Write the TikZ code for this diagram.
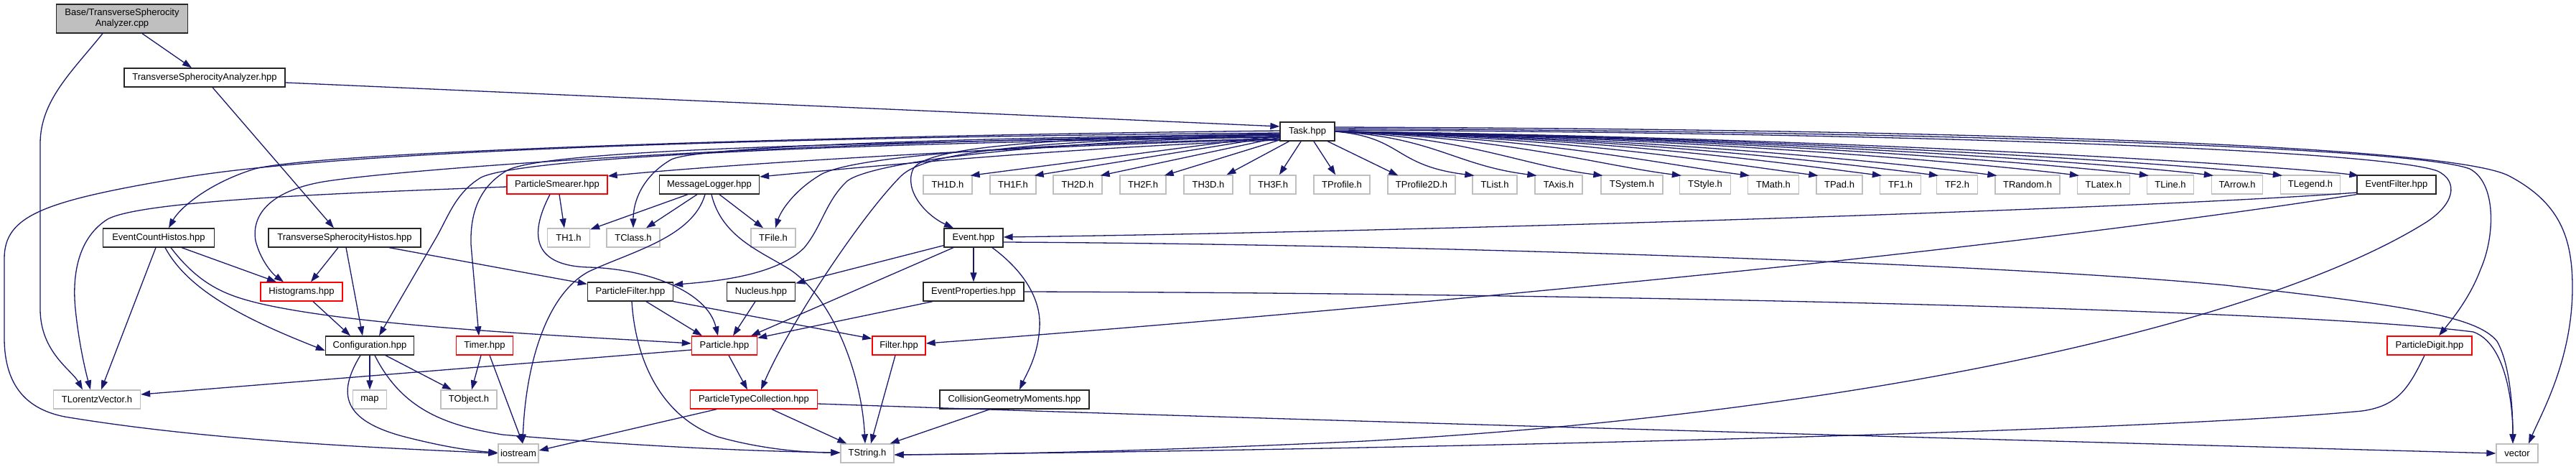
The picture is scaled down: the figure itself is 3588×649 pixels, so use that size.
\documentclass[tikz,border=0pt]{standalone}
\usepackage{fontspec}
\setmainfont{Liberation Sans}
\usetikzlibrary{arrows.meta,calc}
\definecolor{edgec}{HTML}{191970}
\definecolor{greyb}{HTML}{BFBFBF}
\begin{document}
\begin{tikzpicture}[x=1pt,y=-1pt,
  box/.style={rectangle, inner sep=0pt, minimum height=26pt, fill=white, line width=1.3pt, font=\fontsize{13}{15}\selectfont, text=black},
  docb/.style={box, draw=black!85},
  sysb/.style={box, draw=greyb},
  redb/.style={box, draw=red},
  basebox/.style={box, draw=black!85, fill=greyb},
  dep/.style={draw=edgec, line width=1.3pt, -{Triangle[length=13pt,width=9pt]}},
]
\fill[white] (0,0) rectangle (3588,649);
\useasboundingbox (0,0) rectangle (3588,649);

% nodes
\node[basebox, minimum width=183pt, minimum height=40pt, align=center] (base) at (170,26) {Base/TransverseSpherocity\\Analyzer.cpp};
\node[docb, minimum width=224pt] (tsah) at (285,108) {TransverseSpherocityAnalyzer.hpp};
\node[docb, minimum width=76pt] (task) at (1821,183) {Task.hpp};

\node[redb, minimum width=140pt] (psmear) at (776,257) {ParticleSmearer.hpp};
\node[docb, minimum width=139pt] (mlog) at (988,257) {MessageLogger.hpp};
\node[sysb, minimum width=68pt] (th1d) at (1320,257) {TH1D.h};
\node[sysb, minimum width=64pt] (th1f) at (1411,257) {TH1F.h};
\node[sysb, minimum width=68pt] (th2d) at (1501,257) {TH2D.h};
\node[sysb, minimum width=64pt] (th2f) at (1592,257) {TH2F.h};
\node[sysb, minimum width=68pt] (th3d) at (1683,257) {TH3D.h};
\node[sysb, minimum width=64pt] (th3f) at (1773,257) {TH3F.h};
\node[sysb, minimum width=78pt] (tprofile) at (1869,257) {TProfile.h};
\node[sysb, minimum width=94pt] (tprofiled) at (1980,257) {TProfile2D.h};
\node[sysb, minimum width=62pt] (tlist) at (2082,257) {TList.h};
\node[sysb, minimum width=66pt] (taxis) at (2171,257) {TAxis.h};
\node[sysb, minimum width=86pt] (tsystem) at (2273,257) {TSystem.h};
\node[sysb, minimum width=71pt] (tstyle) at (2375,257) {TStyle.h};
\node[sysb, minimum width=71pt] (tmath) at (2470,257) {TMath.h};
\node[sysb, minimum width=64pt] (tpad) at (2562,257) {TPad.h};
\node[sysb, minimum width=57pt] (tfone) at (2647,257) {TF1.h};
\node[sysb, minimum width=57pt] (tftwo) at (2726,257) {TF2.h};
\node[sysb, minimum width=90pt] (trandom) at (2824,257) {TRandom.h};
\node[sysb, minimum width=73pt] (tlatex) at (2930,257) {TLatex.h};
\node[sysb, minimum width=65pt] (tline) at (3023,257) {TLine.h};
\node[sysb, minimum width=71pt] (tarrow) at (3116,257) {TArrow.h};
\node[sysb, minimum width=83pt] (tlegend) at (3218,257) {TLegend.h};
\node[docb, minimum width=110pt] (evfilter) at (3338,257) {EventFilter.hpp};

\node[docb, minimum width=155pt] (ech) at (221,331) {EventCountHistos.hpp};
\node[docb, minimum width=212pt] (tsh) at (480,331) {TransverseSpherocityHistos.hpp};
\node[sysb, minimum width=59pt] (th1) at (792,331) {TH1.h};
\node[sysb, minimum width=74pt] (tclass) at (882,331) {TClass.h};
\node[sysb, minimum width=62pt] (tfile) at (1077,331) {TFile.h};
\node[docb, minimum width=82pt] (event) at (1356,331) {Event.hpp};

\node[redb, minimum width=114pt] (hist) at (420,406) {Histograms.hpp};
\node[docb, minimum width=119pt] (pfilter) at (878,406) {ParticleFilter.hpp};
\node[docb, minimum width=95pt] (nucleus) at (1060,406) {Nucleus.hpp};
\node[docb, minimum width=140pt] (evprop) at (1356,406) {EventProperties.hpp};

\node[docb, minimum width=123pt] (conf) at (515,481) {Configuration.hpp};
\node[redb, minimum width=79pt] (timer) at (675,481) {Timer.hpp};
\node[redb, minimum width=91pt] (particle) at (1009,481) {Particle.hpp};
\node[redb, minimum width=74pt] (filter) at (1252,481) {Filter.hpp};
\node[redb, minimum width=118pt] (pdigit) at (3384,481) {ParticleDigit.hpp};

\node[sysb, minimum width=121pt] (tlv) at (135,556) {TLorentzVector.h};
\node[sysb, minimum width=47pt] (map) at (515,556) {map};
\node[sysb, minimum width=78pt] (tobject) at (653,556) {TObject.h};
\node[redb, minimum width=177pt] (ptc) at (1050,556) {ParticleTypeCollection.hpp};
\node[docb, minimum width=208pt] (cgm) at (1413,556) {CollisionGeometryMoments.hpp};

\node[sysb, minimum width=56pt] (iostream) at (722,631) {iostream};
\node[sysb, minimum width=74pt] (tstring) at (1208,631) {TString.h};
\node[sysb, minimum width=58pt] (vector) at (3506,631) {vector};

% edges from base and tsah
\draw[dep] ([xshift=28]base.south) -- ([xshift=-18]tsah.north);
\draw[dep] ([xshift=-27]base.south) .. controls (100,100) and (56,140) .. (56,200) -- (56,430) .. controls (56,490) and (100,515) .. ([xshift=-20]tlv.north);
\draw[dep] ([yshift=-7]tsah.east) -- ([yshift=7]task.west);
\draw[dep] ([xshift=11]tsah.south) -- ([xshift=-15]tsh.north);

% task, left fan
\draw[dep] ([yshift=-2]task.west) .. controls (1200,190) and (500,205) .. (250,248) .. controls (60,280) and (6,300) .. (6,360) -- (6,470) .. controls (6,540) and (40,570) .. (90,580) .. controls (300,615) and (550,624) .. (iostream.west);
\draw[dep] ([yshift=1]task.west) .. controls (1200,188) and (450,210) .. (355,235) .. controls (290,255) and (250,290) .. ([xshift=14]ech.north);
\draw[dep] ([yshift=-5]task.west) .. controls (1100,195) and (560,235) .. (450,253) .. controls (375,266) and (350,300) .. (356,335) .. controls (362,360) and (378,380) .. ([xshift=-25]hist.north);
\draw[dep] ([yshift=-11]task.west) .. controls (1500,200) and (1050,225) .. ([yshift=12]psmear.east);
\draw[dep] ([yshift=-8]task.west) .. controls (1100,200) and (720,222) .. (670,247) .. controls (635,268) and (625,300) .. (608,330) -- ([xshift=13]conf.north);
\draw[dep] ([yshift=-7]task.west) .. controls (1100,198) and (745,212) .. (705,238) .. controls (665,262) and (655,300) .. (656,340) -- ([xshift=-8]timer.north);
\draw[dep] ([yshift=-4]task.west) .. controls (1300,192) and (970,205) .. (935,222) .. controls (895,245) and (882,280) .. (tclass.north);
\draw[dep] ([yshift=-12]task.west) .. controls (1500,205) and (1250,228) .. ([yshift=11]mlog.east);
\draw[dep] ([yshift=-10]task.west) .. controls (1450,200) and (1200,215) .. (1145,242) .. controls (1105,265) and (1087,295) .. ([xshift=3]tfile.north);
\draw[dep] ([yshift=-7]task.west) .. controls (1450,196) and (1215,225) .. (1180,252) .. controls (1150,280) and (1145,315) .. (1120,345) .. controls (1080,385) and (990,392) .. ([yshift=-4]pfilter.north east);
\draw[dep] ([yshift=-5]task.west) .. controls (1450,195) and (1290,210) .. (1255,245) .. controls (1200,300) and (1100,450) .. ([xshift=10]ptc.north);
\draw[dep] ([yshift=-3]task.west) .. controls (1450,192) and (1290,205) .. (1272,235) .. controls (1258,265) and (1290,300) .. ([xshift=-28]event.north);

% task, header row
\foreach \n in {th1d,th1f,th2d,th2f}
  \draw[dep] (task) -- ([xshift=-3,yshift=-1]\n.north east);
\foreach \n in {th3d,th3f,tprofile}
  \draw[dep] (task) -- (\n);
\draw[dep] (task) -- ([xshift=15,yshift=-1]tprofiled.north west);
\foreach \n in {tlist,taxis,tsystem,tstyle,tmath,tpad,tfone,tftwo,trandom,tlatex,tline,tarrow,tlegend,evfilter}
  \draw[dep] (task.east) .. controls ($(task.east)!0.5!(\n.north west)+(0,-22)$) and ($(\n.north west)+(-110,-13)$) .. ([xshift=3,yshift=-1]\n.north west);
\draw[dep] ([yshift=2]task.east) .. controls (2700,185) and (3320,210) .. (3395,238) .. controls (3425,252) and (3420,285) .. (3375,312) .. controls (3150,450) and (2600,575) .. (1900,614) .. controls (1600,628) and (1400,632) .. ([yshift=-2]tstring.east);
\draw[dep] ([yshift=4]task.east) .. controls (2700,183) and (3360,205) .. (3440,235) .. controls (3478,255) and (3475,330) .. (3455,375) .. controls (3440,415) and (3415,445) .. ([xshift=13]pdigit.north);
\draw[dep] ([yshift=6]task.east) .. controls (2800,180) and (3420,205) .. (3495,245) .. controls (3565,282) and (3583,330) .. (3583,400) .. controls (3583,500) and (3540,575) .. ([xshift=16]vector.north);

% EventCountHistos
\draw[dep] ([xshift=32]ech.south) -- ([xshift=-35]hist.north);
\draw[dep] ([xshift=9]ech.south) .. controls (260,400) and (330,440) .. ([yshift=-7]conf.west);
\draw[dep] ([xshift=-4]ech.south) -- ([xshift=6]tlv.north);
\draw[dep] ([xshift=17]ech.south) .. controls (280,400) and (320,412) .. (360,422) .. controls (500,455) and (800,468) .. ([yshift=3]particle.west);

% TransverseSpherocityHistos
\draw[dep] ([xshift=-9]tsh.south) -- ([xshift=13]hist.north);
\draw[dep] ([xshift=2]tsh.south) -- ([xshift=-10]conf.north);
\draw[dep] ([xshift=62]tsh.south) -- ([yshift=-3]pfilter.north west);

% Histograms
\draw[dep] ([xshift=16]hist.south) -- ([xshift=-27]conf.north);

% Configuration
\draw[dep] (conf.south) -- (map.north);
\draw[dep] ([xshift=22]conf.south) -- ([xshift=-24]tobject.north);
\draw[dep] ([xshift=-13]conf.south) .. controls (468,550) and (480,585) .. (560,607) .. controls (610,620) and (650,627) .. ([yshift=1]iostream.west);
\draw[dep] ([xshift=7]conf.south) .. controls (560,570) and (620,592) .. (700,605) .. controls (900,622) and (1050,628) .. ([yshift=1]tstring.west);

% Timer
\draw[dep] ([xshift=-5]timer.south) -- ([xshift=4]tobject.north);
\draw[dep] ([xshift=7]timer.south) -- ([xshift=6]iostream.north);

% ParticleSmearer
\draw[dep] ([xshift=3]psmear.south) -- ([xshift=-6]th1.north);
\draw[dep] ([yshift=-3]psmear.west) .. controls (500,268) and (200,278) .. (150,305) .. controls (110,330) and (100,380) .. (105,430) .. controls (110,480) and (120,520) .. ([xshift=-9]tlv.north);
\draw[dep] ([xshift=-10]psmear.south) .. controls (735,330) and (745,370) .. (820,372) .. controls (900,374) and (985,405) .. ([xshift=-9]particle.north);

% MessageLogger
\draw[dep] ([xshift=-30]mlog.south) -- ([yshift=-2]th1.north east);
\draw[dep] ([xshift=-17]mlog.south) -- ([xshift=18]tclass.north);
\draw[dep] ([xshift=14]mlog.south) -- ([xshift=-14]tfile.north);
\draw[dep] ([xshift=-6]mlog.south) .. controls (965,330) and (880,350) .. (820,378) .. controls (760,410) and (732,510) .. ([xshift=6]iostream.north);
\draw[dep] ([xshift=3]mlog.south) .. controls (1005,330) and (1060,350) .. (1100,375) .. controls (1160,415) and (1200,520) .. ([xshift=-3]tstring.north);

% ParticleFilter
\draw[dep] ([xshift=22]pfilter.south) -- ([xshift=-31]particle.north);
\draw[dep] (pfilter.south east) -- ([yshift=-4]filter.north west);
\draw[dep] ([xshift=2]pfilter.south) .. controls (885,500) and (920,580) .. (1000,608) .. controls (1060,625) and (1120,630) .. ([yshift=1]tstring.west);

% Nucleus
\draw[dep] ([xshift=-8]nucleus.south) -- ([xshift=12]particle.north);

% Event
\draw[dep] ([yshift=3]event.south west) -- ([yshift=-2]nucleus.north east);
\draw[dep] ([xshift=-28]event.south) -- ([xshift=37]particle.north);
\draw[dep] (event) -- (evprop);
\draw[dep] ([xshift=26]event.south) .. controls (1430,380) and (1450,420) .. (1448,455) .. controls (1446,495) and (1430,520) .. ([xshift=7]cgm.north);
\draw[dep] ([yshift=-6]event.east) .. controls (2000,340) and (2800,368) .. (3100,397) .. controls (3350,425) and (3450,440) .. (3478,475) .. controls (3498,510) and (3500,580) .. ([xshift=-6]vector.north);

% EventProperties
\draw[dep] ([xshift=-57]evprop.south) -- ([yshift=-3]particle.north east);
\draw[dep] (evprop.east) .. controls (2200,408) and (3200,430) .. (3445,462) .. controls (3490,478) and (3500,560) .. ([xshift=-6]vector.north);

% EventFilter
\draw[dep] ([yshift=-11]evfilter.west) .. controls (3000,290) and (2000,322) .. ([yshift=1]event.east);
\draw[dep] (evfilter.south west) .. controls (3000,315) and (2600,360) .. (2367,383) .. controls (2000,420) and (1600,455) .. ([yshift=3]filter.east);

% Particle
\draw[dep] ([yshift=-6]particle.west) -- ([yshift=7]tlv.east);
\draw[dep] ([xshift=6]particle.south) -- ([xshift=-9]ptc.north);

% Filter
\draw[dep] ([xshift=-5]filter.south) -- ([xshift=5]tstring.north);

% ParticleTypeCollection
\draw[dep] ([xshift=-52]ptc.south) -- ([yshift=4]iostream.east);
\draw[dep] ([xshift=25]ptc.south) -- ([xshift=9]tstring.north west);
\draw[dep] ([yshift=-6]ptc.east) .. controls (1800,585) and (3000,618) .. (vector.west);

% CollisionGeometryMoments
\draw[dep] ([xshift=-34]cgm.south) -- ([xshift=-6]tstring.north east);

% ParticleDigit
\draw[dep] ([xshift=-7]pdigit.south) .. controls (3355,540) and (3340,565) .. (3290,572) .. controls (3000,600) and (2000,625) .. ([yshift=-2]tstring.east);
\end{tikzpicture}
\end{document}
